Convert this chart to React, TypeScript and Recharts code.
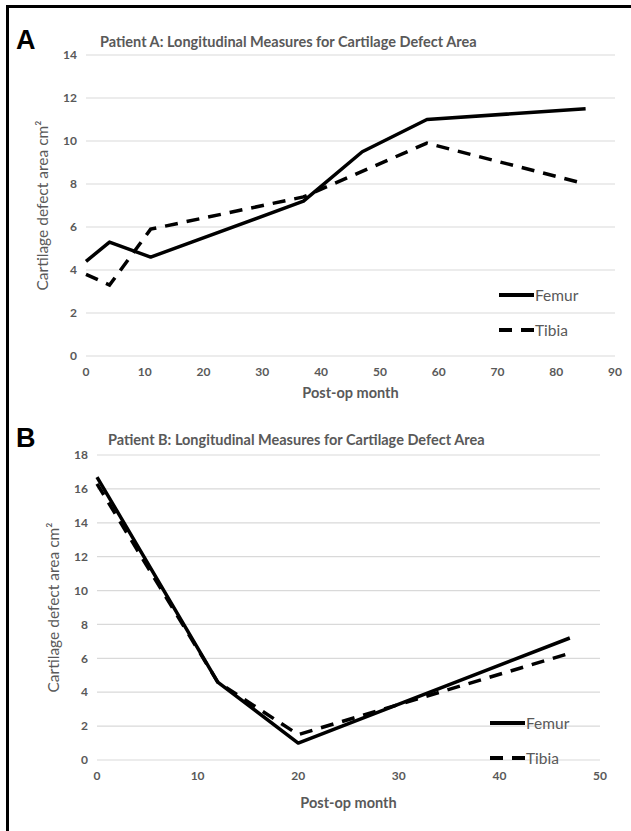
import React from 'react'
import { LineChart, Line, XAxis, YAxis, CartesianGrid } from 'recharts'

// Patient A (post-op month -> defect area cm²)
const femurA = [
  { month: 0, area: 4.4 },
  { month: 4, area: 5.3 },
  { month: 11, area: 4.6 },
  { month: 37, area: 7.2 },
  { month: 47, area: 9.5 },
  { month: 58, area: 11.0 },
  { month: 85, area: 11.5 },
]
const tibiaA = [
  { month: 0, area: 3.8 },
  { month: 4, area: 3.3 },
  { month: 11, area: 5.9 },
  { month: 37, area: 7.4 },
  { month: 58, area: 9.9 },
  { month: 85, area: 8.0 },
]
const xTicksA = [0, 10, 20, 30, 40, 50, 60, 70, 80, 90]
const yTicksA = [0, 2, 4, 6, 8, 10, 12, 14]

// Patient B
const femurB = [
  { month: 0, area: 16.7 },
  { month: 12, area: 4.6 },
  { month: 20, area: 1.0 },
  { month: 47, area: 7.2 },
]
const tibiaB = [
  { month: 0, area: 16.3 },
  { month: 12, area: 4.6 },
  { month: 20, area: 1.5 },
  { month: 47, area: 6.3 },
]
const xTicksB = [0, 10, 20, 30, 40, 50]
const yTicksB = [0, 2, 4, 6, 8, 10, 12, 14, 16, 18]

const seriesNames = ['Femur', 'Tibia']

const FONT = 'Lato, "Open Sans", sans-serif'
const GREY = '#595959'
const DASH = '13 9'

const LegendBox = ({ left, top }: { left: number; top: number }) => (
  <div style={{ position: 'absolute', left, top, fontFamily: FONT, fontSize: 15.5, color: GREY }}>
    {seriesNames.map((name) => (
      <div key={name} style={{ display: 'flex', alignItems: 'center', height: 35 }}>
        <svg width={38} height={8}>
          <line
            x1={2}
            y1={4}
            x2={37}
            y2={4}
            stroke="#000"
            strokeWidth={4}
            strokeDasharray={name === 'Tibia' ? DASH : undefined}
          />
        </svg>
        <span>{name}</span>
      </div>
    ))}
  </div>
)

interface PanelProps {
  letter: string
  title: string
  femur: Array<{ month: number; area: number }>
  tibia: Array<{ month: number; area: number }>
  xTicks: number[]
  yTicks: number[]
  top: number
  height: number
  xHeight: number
  margin: { top: number; right: number; left: number; bottom: number }
  legendPos: { left: number; top: number }
  titleLeft: number
  titleTop: number
  labelOffset: number
}

const Panel: React.FC<PanelProps> = (p) => (
  <div style={{ position: 'absolute', left: 0, top: p.top, width: 631, height: p.height }}>
    <LineChart width={631} height={p.height} margin={p.margin}>
      <CartesianGrid vertical={false} stroke="#d9d9d9" strokeWidth={1.2} />
      <XAxis
        type="number"
        dataKey="month"
        domain={[p.xTicks[0], p.xTicks[p.xTicks.length - 1]]}
        ticks={p.xTicks}
        axisLine={false}
        tickLine={false}
        tickSize={0}
        tickMargin={11}
        height={p.xHeight}
        tick={{ fill: GREY, fontSize: 12, fontFamily: FONT, fontWeight: 'bold' }}
        label={{
          value: 'Post-op month',
          position: 'insideBottom',
          offset: 8,
          style: { fill: GREY, fontSize: 14.5, fontFamily: FONT, fontWeight: 'bold' },
        }}
      />
      <YAxis
        type="number"
        domain={[p.yTicks[0], p.yTicks[p.yTicks.length - 1]]}
        ticks={p.yTicks}
        axisLine={false}
        tickLine={false}
        tickSize={0}
        tickMargin={9}
        width={56}
        tick={{ fill: GREY, fontSize: 12, fontFamily: FONT, fontWeight: 'bold' }}
        label={{
          value: 'Cartilage defect area cm²',
          angle: -90,
          position: 'insideLeft',
          offset: p.labelOffset,
          style: { textAnchor: 'middle', fill: GREY, fontSize: 15.5, fontFamily: FONT },
        }}
      />
      <Line
        data={p.femur}
        dataKey="area"
        name="Femur"
        stroke="#000"
        strokeWidth={3.5}
        dot={false}
        isAnimationActive={false}
        strokeLinejoin="round"
      />
      <Line
        data={p.tibia}
        dataKey="area"
        name="Tibia"
        stroke="#000"
        strokeWidth={3.5}
        strokeDasharray={DASH}
        dot={false}
        isAnimationActive={false}
      />
    </LineChart>
    <div
      style={{
        position: 'absolute',
        left: 16,
        top: p.titleTop - 17,
        fontFamily: 'Arial, "Liberation Sans", sans-serif',
        fontWeight: 'bold',
        fontSize: 27,
        color: '#000',
      }}
    >
      {p.letter}
    </div>
    <div
      style={{
        position: 'absolute',
        left: p.titleLeft,
        top: p.titleTop - 9,
        fontFamily: FONT,
        fontWeight: 'bold',
        fontSize: 14.5,
        color: GREY,
        whiteSpace: 'nowrap',
      }}
    >
      {p.title}
    </div>
    <LegendBox left={p.legendPos.left} top={p.legendPos.top} />
  </div>
)

export default function App() {
  return (
    <div
      style={{
        position: 'absolute',
        left: 0,
        top: 0,
        width: 631,
        height: 831,
        background: '#fff',
        overflow: 'hidden',
      }}
    >
      <div
        style={{
          position: 'absolute',
          left: 6,
          top: 5,
          width: 640,
          height: 840,
          borderLeft: '3px solid #000',
          borderTop: '3px solid #000',
        }}
      />
      <Panel
        letter="A"
        title="Patient A: Longitudinal Measures for Cartilage Defect Area"
        femur={femurA}
        tibia={tibiaA}
        xTicks={xTicksA}
        yTicks={yTicksA}
        top={0}
        height={410}
        xHeight={50}
        margin={{ top: 55, right: 16, left: 30, bottom: 4 }}
        legendPos={{ left: 497, top: 277 }}
        titleLeft={100}
        titleTop={42}
        labelOffset={12}
      />
      <Panel
        letter="B"
        title="Patient B: Longitudinal Measures for Cartilage Defect Area"
        femur={femurB}
        tibia={tibiaB}
        xTicks={xTicksB}
        yTicks={yTicksB}
        top={410}
        height={421}
        xHeight={56}
        margin={{ top: 45, right: 31, left: 41, bottom: 15 }}
        legendPos={{ left: 488, top: 295 }}
        titleLeft={108}
        titleTop={30}
        labelOffset={12}
      />
    </div>
  )
}
